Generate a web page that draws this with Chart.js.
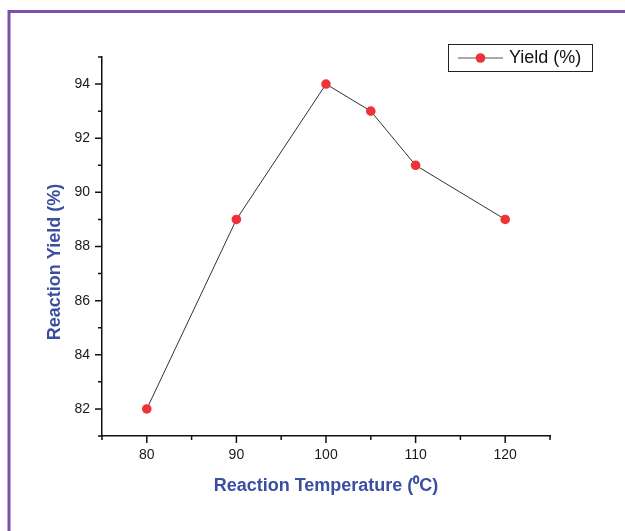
<!DOCTYPE html>
<html>
<head>
<meta charset="utf-8">
<script src="https://cdn.jsdelivr.net/npm/chart.js@4.4.1/dist/chart.umd.min.js"></script>
<style>
  html, body { margin: 0; padding: 0; background: #ffffff; }
  #wrap { position: relative; width: 625px; height: 531px; }
</style>
</head>
<body>
<div id="wrap"><canvas id="c"></canvas></div>
<script>
const temperatures = [80, 90, 100, 105, 110, 120];
const yieldValues = [82, 89, 94, 93, 91, 89];
const xMajorTicks = [80, 90, 100, 110, 120];
const xMinorTicks = [75, 85, 95, 105, 115, 125];
const yMajorTicks = [82, 84, 86, 88, 90, 92, 94];
const yMinorTicks = [81, 83, 85, 87, 89, 91, 93, 95];
const seriesLabel = 'Yield (%)';
const xTitle = 'Reaction Temperature (\u2070C)';
const yTitle = 'Reaction Yield (%)';

const FONT = "'Liberation Sans', Arial, Helvetica, sans-serif";
const titleBlue = '#3B4FA2';
const red = '#EE3338';

const framePlugin = {
  id: 'frame',
  beforeDraw(chart) {
    const ctx = chart.ctx;
    ctx.save();
    ctx.fillStyle = '#ffffff';
    ctx.fillRect(0, 0, chart.width, chart.height);
    ctx.strokeStyle = '#7B52A8';
    ctx.lineWidth = 3;
    ctx.beginPath();
    ctx.moveTo(9, 531);
    ctx.lineTo(9, 11.5);
    ctx.lineTo(625, 11.5);
    ctx.stroke();
    ctx.restore();
  }
};

const tickPlugin = {
  id: 'tickMarks',
  afterDraw(chart) {
    const ctx = chart.ctx;
    const xs = chart.scales.x, ys = chart.scales.y;
    const area = chart.chartArea;
    ctx.save();
    ctx.strokeStyle = '#111111';
    ctx.lineWidth = 1.5;
    ctx.beginPath();
    xMajorTicks.forEach(v => { const p = xs.getPixelForValue(v); ctx.moveTo(p, area.bottom); ctx.lineTo(p, area.bottom + 7); });
    xMinorTicks.forEach(v => { const p = xs.getPixelForValue(v); ctx.moveTo(p, area.bottom); ctx.lineTo(p, area.bottom + 4); });
    yMajorTicks.forEach(v => { const p = ys.getPixelForValue(v); ctx.moveTo(area.left, p); ctx.lineTo(area.left - 7, p); });
    yMinorTicks.forEach(v => { const p = ys.getPixelForValue(v); ctx.moveTo(area.left, p); ctx.lineTo(area.left - 4, p); });
    ctx.stroke();

    // y axis title
    ctx.save();
    ctx.translate(55, 262);
    ctx.rotate(-Math.PI / 2);
    ctx.fillStyle = titleBlue;
    ctx.font = 'bold 18px ' + FONT;
    ctx.textAlign = 'center';
    ctx.textBaseline = 'middle';
    ctx.fillText(yTitle, 0, 0);
    ctx.restore();

    // legend
    const ds = chart.data.datasets[0];
    ctx.lineWidth = 1;
    ctx.strokeStyle = '#222222';
    ctx.strokeRect(448.5, 44.5, 144, 27);
    ctx.strokeStyle = '#555555';
    ctx.beginPath();
    ctx.moveTo(458, 58); ctx.lineTo(503, 58);
    ctx.stroke();
    ctx.fillStyle = ds.pointBackgroundColor;
    ctx.beginPath();
    ctx.arc(480.5, 58, ds.pointRadius, 0, Math.PI * 2);
    ctx.fill();
    ctx.fillStyle = '#111111';
    ctx.font = '18px ' + FONT;
    ctx.textBaseline = 'middle';
    ctx.textAlign = 'left';
    ctx.fillText(ds.label, 509, 58.5);
    ctx.restore();
  }
};

new Chart(document.getElementById('c'), {
  type: 'scatter',
  data: {
    datasets: [{
      label: seriesLabel,
      data: temperatures.map((t, i) => ({ x: t, y: yieldValues[i] })),
      showLine: true,
      borderColor: '#333333',
      borderWidth: 1,
      pointBackgroundColor: red,
      pointBorderColor: red,
      pointBorderWidth: 0,
      pointRadius: 4.8,
      pointHoverRadius: 4.8
    }]
  },
  options: {
    responsive: true,
    maintainAspectRatio: false,
    animation: false,
    devicePixelRatio: 1,
    layout: { padding: { left: 0, top: 57, right: 75, bottom: 0 } },
    plugins: {
      legend: { display: false },
      tooltip: { enabled: false }
    },
    scales: {
      x: {
        type: 'linear',
        min: 75,
        max: 125,
        afterBuildTicks: s => { s.ticks = xMajorTicks.map(v => ({ value: v })); },
        afterFit: s => { s.height = 95; },
        grid: { display: true, drawOnChartArea: false, drawTicks: false, color: 'rgba(0,0,0,0)' },
        border: { display: true, color: '#111111', width: 1.5 },
        ticks: { color: '#1a1a1a', padding: 11, font: { family: FONT, size: 14 }, maxRotation: 0 },
        title: { display: true, text: xTitle, color: titleBlue, font: { family: FONT, size: 18, weight: 'bold' }, padding: { top: 0, bottom: 34 } }
      },
      y: {
        type: 'linear',
        min: 81,
        max: 95,
        afterBuildTicks: s => { s.ticks = yMajorTicks.map(v => ({ value: v })); },
        afterFit: s => { s.width = 102; },
        grid: { display: true, drawOnChartArea: false, drawTicks: false, color: 'rgba(0,0,0,0)' },
        border: { display: true, color: '#111111', width: 1.5 },
        ticks: { color: '#1a1a1a', padding: 12, font: { family: FONT, size: 14 } },
        title: { display: false, text: yTitle }
      }
    }
  },
  plugins: [framePlugin, tickPlugin]
});
</script>
</body>
</html>
